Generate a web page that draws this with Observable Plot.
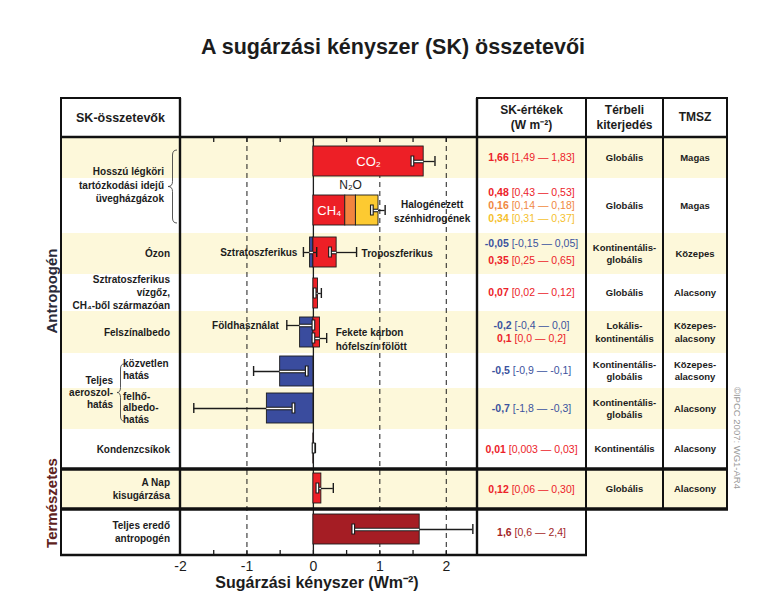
<!DOCTYPE html>
<html><head><meta charset="utf-8">
<script src="https://cdn.jsdelivr.net/npm/d3@7"></script>
<script src="https://cdn.jsdelivr.net/npm/@observablehq/plot@0.6"></script>
<style>
html,body{margin:0;padding:0;background:#fff;}
#wrap{position:relative;width:767px;height:609px;overflow:hidden;font-family:"Liberation Sans",Arial,Helvetica,sans-serif;}
#wrap svg{position:absolute;left:0;top:0;}
</style></head><body><div id="wrap"></div>
<script>
// ===================== DATA =====================
const title = "A sugárzási kényszer (SK) összetevői";
const axisTitle = "Sugárzási kényszer (Wm⁻²)";
const xTicks = [-2, -1, 0, 1, 2];
const minorTicks = [-1.5, -1, -0.5, 0, 0.5, 1, 1.5, 2];
const dashedGrid = [-1, 1, 2];
const xDomain = [-2, 2.47];

// table rows (top to bottom)
const rowLabels = ["", "", "Ózon", "Sztratoszferikus\nvízgőz,\nCH₄-ből származóan", "Felszínalbedo", "", "", "Kondenzcsíkok", "A Nap\nkisugárzása", "Teljes eredő\nantropogén"];
const spatialScale = ["Globális", "Globális", "Kontinentális-\nglobális", "Globális", "Lokális-\nkontinentális", "Kontinentális-\nglobális", "Kontinentális-\nglobális", "Kontinentális", "Globális", ""];
const confidence = ["Magas", "Magas", "Közepes", "Alacsony", "Közepes-\nalacsony", "Közepes-\nalacsony", "Alacsony", "Alacsony", "Alacsony", ""];
const groupLabelText = ["Hosszú légköri\ntartózkodási idejű\nüvegházgázok", "Teljes\naeroszol-\nhatás"];
const groupRows = [[0, 1], [5, 6]];
const subLabelText = ["közvetlen\nhatás", "felhő-\nalbedo-\nhatás"];
const subLabelRow = [5, 6];
const sideLabels = ["Antropogén", "Természetes"];
const headers = ["SK-összetevők", "SK-értékek\n(W m⁻²)", "Térbeli\nkiterjedés", "TMSZ"];
const copyright = "©IPCC 2007: WG1-AR4";

// bar segments
const barName  = ["CO₂", "CH₄", "N₂O", "Halogénezett szénhidrogének", "Sztratoszferikus ózon", "Troposzferikus ózon", "Sztratoszferikus vízgőz", "Földhasználat", "Fekete karbon hófelszín fölött", "Közvetlen aeroszolhatás", "Felhőalbedo-hatás", "Kondenzcsíkok", "A Nap kisugárzása", "Teljes eredő antropogén"];
const barRow   = [0, 1, 1, 1, 2, 2, 3, 4, 4, 5, 6, 7, 8, 9];
const barValue = [1.66, 0.48, 0.16, 0.34, -0.05, 0.35, 0.07, -0.2, 0.1, -0.5, -0.7, 0.01, 0.12, 1.6];
const barLow   = [1.49, 0.43, 0.14, 0.31, -0.15, 0.25, 0.02, -0.4, 0.0, -0.9, -1.8, 0.003, 0.06, 0.6];
const barHigh  = [1.83, 0.53, 0.18, 0.37, 0.05, 0.65, 0.12, 0.0, 0.2, -0.1, -0.3, 0.03, 0.30, 2.4];
const barKind  = ["pos", "pos", "n2o", "halo", "neg", "pos", "pos", "neg", "pos", "neg", "neg", "pos", "pos", "net"];
const valueLabel = ["1,66", "0,48", "0,16", "0,34", "-0,05", "0,35", "0,07", "-0,2", "0,1", "-0,5", "-0,7", "0,01", "0,12", "1,6"];
const rangeLabel = ["[1,49 — 1,83]", "[0,43 — 0,53]", "[0,14 — 0,18]", "[0,31 — 0,37]", "[-0,15 — 0,05]", "[0,25 — 0,65]", "[0,02 — 0,12]", "[-0,4 — 0,0]", "[0,0 — 0,2]", "[-0,9 — -0,1]", "[-1,8 — -0,3]", "[0,003 — 0,03]", "[0,06 — 0,30]", "[0,6 — 2,4]"];

// annotations on bars
const noteBar   = [0, 1, 2, 3, 4, 5, 7, 8];
const noteText  = ["CO₂", "CH₄", "N₂O", "Halogénezett\nszénhidrogének", "Sztratoszferikus", "Troposzferikus", "Földhasználat", "Fekete karbon\nhófelszín fölött"];
const notePlace = ["in", "in", "above", "errRightCenter", "errLeft", "errRight", "errLeft", "errRight"];

// ===================== STYLE / LAYOUT =====================
const kinds = ["pos", "n2o", "halo", "neg", "net"];
const barColors  = ["#ed1f26", "#f2843f", "#fdca31", "#3a4c9e", "#a51d24"];
const textColors = ["#ec2229", "#f0883f", "#f5bf2e", "#3b539e", "#a31f27"];
const ink = "#1c1c1c";
const cream = "#fdf8da";
const W = 767, H = 609;
const colX = [61, 180, 477, 586, 663, 727];
const tableTop = 98, bodyTop = 137;
const rowHeights = [41, 55, 41, 37, 42, 35, 41, 40, 40, 46];
const barOffset = [9, 17, 4, 4, 6, 3, 5, 4, 4, 5];
const barHeight = 30;
const errShift = {7: -7, 8: 6};
const noteDx = [0, 0, 0, 47, -6, 5, -8, 9];
const font = "'Liberation Sans', Arial, Helvetica, sans-serif";

const rowStart = [0];
rowHeights.forEach((h, i) => rowStart.push(rowStart[i] + h));
const bodyH = rowStart[rowStart.length - 1];
const rowMid = r => (rowStart[r] + rowStart[r + 1]) / 2;
const colorOf = k => textColors[kinds.indexOf(k)];

// ===================== DERIVED =====================
const bars = barName.map((name, i) => ({i, name, row: barRow[i], value: barValue[i], lo: barLow[i], hi: barHigh[i], kind: barKind[i]}));
const posAcc = {}, negAcc = {};
bars.forEach(b => {
  if (b.value >= 0) { const s = posAcc[b.row] || 0; b.x1 = s; b.x2 = s + b.value; posAcc[b.row] = b.x2; }
  else { const s = negAcc[b.row] || 0; b.x1 = s + b.value; b.x2 = s; negAcc[b.row] = b.x1; }
  b.y1 = rowStart[b.row] + barOffset[b.row];
  b.y2 = b.y1 + barHeight;
});
const errs = [];
d3.group(bars, b => b.row + (b.value >= 0 ? "+" : "-")).forEach(g => {
  const e = {
    lo: d3.sum(g, b => b.lo), hi: d3.sum(g, b => b.hi),
    barLo: d3.min(g, b => b.x1), barHi: d3.max(g, b => b.x2),
    y: (g[0].y1 + g[0].y2) / 2 + (g.length === 1 ? (errShift[g[0].i] || 0) : 0)
  };
  g.forEach(b => b.err = e);
  errs.push(e);
});
const eps = 1e-9;
const insideSegs = errs.map(e => ({y: e.y, a: Math.max(e.lo, e.barLo), b: Math.min(e.hi, e.barHi)})).filter(s => s.b > s.a);
const caps = errs.flatMap(e => [e.lo, e.hi].map(x => ({x, y: e.y, inside: x >= e.barLo - eps && x <= e.barHi + eps})));
const notes = noteBar.map((bi, k) => {
  const b = bars[bi], place = notePlace[k];
  let x, y, anchor = "middle";
  if (place === "in") { x = (b.x1 + b.x2) / 2; y = (b.y1 + b.y2) / 2; }
  else if (place === "above") { x = (b.x1 + b.x2) / 2; y = b.y1 - 10; }
  else if (place === "errRightCenter") { x = b.err.hi; y = b.err.y; }
  else if (place === "errRight") { x = b.err.hi; y = b.err.y; anchor = "start"; }
  else { x = b.err.lo; y = b.err.y; anchor = "end"; }
  return {x, y, text: noteText[k], anchor, place, dx: noteDx[k]};
});
const noteStyle = {
  in: {fill: "#fff", fontSize: 13},
  above: {fill: ink, fontSize: 12},
  errRightCenter: {fill: ink, fontSize: 10, fontWeight: "bold", lineHeight: 1.35},
  errRight: {fill: ink, fontSize: 10, fontWeight: "bold", lineHeight: 1.35},
  errLeft: {fill: ink, fontSize: 10, fontWeight: "bold"}
};
const noteMarks = notes.map(n => Plot.text([n], {x: "x", y: "y", text: "text", dx: n.dx, textAnchor: n.anchor, ...noteStyle[n.place]}));
const fmtTick = d => (d < 0 ? "-" : "") + Math.abs(d);

const wrap = document.getElementById("wrap");

// ===================== BACK LAYER (row shading) =====================
const back = d3.select(wrap).append("svg").attr("width", W).attr("height", H);
rowHeights.forEach((h, r) => {
  if (r % 2 === 0 && r < 9) back.append("rect").attr("x", colX[0]).attr("width", colX[5] - colX[0])
    .attr("y", bodyTop + rowStart[r]).attr("height", h).attr("fill", cream);
});

// ===================== PLOT =====================
const chart = Plot.plot({
  width: W, height: H,
  marginLeft: colX[1], marginRight: W - colX[2], marginTop: bodyTop, marginBottom: H - (bodyTop + bodyH),
  style: {background: "transparent", fontFamily: font, overflow: "visible"},
  x: {domain: xDomain, nice: false},
  y: {domain: [0, bodyH], range: [bodyTop, bodyTop + bodyH], axis: null},
  color: {domain: kinds, range: barColors},
  marks: [
    Plot.ruleX(dashedGrid, {stroke: ink, strokeWidth: 1, strokeDasharray: "5,4"}),
    Plot.ruleX([0], {stroke: ink, strokeWidth: 1.3}),
    Plot.ruleX(minorTicks, {y1: bodyH - 5, y2: bodyH, stroke: ink, strokeWidth: 1.3}),
    Plot.ruleX(minorTicks, {y1: 0, y2: 5, stroke: ink, strokeWidth: 1.3}),
    Plot.rect(bars, {x1: "x1", x2: "x2", y1: "y1", y2: "y2", fill: "kind", stroke: ink, strokeWidth: 0.9}),
    Plot.ruleY(errs, {y: "y", x1: "lo", x2: "hi", stroke: ink, strokeWidth: 1.3}),
    Plot.ruleY(insideSegs, {y: "y", x1: "a", x2: "b", stroke: ink, strokeWidth: 3.6}),
    Plot.ruleY(insideSegs, {y: "y", x1: "a", x2: "b", stroke: "#fff", strokeWidth: 1.4}),
    Plot.ruleX(caps.filter(c => !c.inside), {x: "x", y1: d => d.y - 5, y2: d => d.y + 5, stroke: ink, strokeWidth: 1.4}),
    Plot.ruleX(caps.filter(c => c.inside), {x: "x", y1: d => d.y - 5.5, y2: d => d.y + 5.5, stroke: ink, strokeWidth: 3.8}),
    Plot.ruleX(caps.filter(c => c.inside), {x: "x", y1: d => d.y - 4.5, y2: d => d.y + 4.5, stroke: "#fff", strokeWidth: 1.5}),
    ...noteMarks,
    Plot.axisX({ticks: xTicks, tickSize: 0, tickPadding: 6, fontSize: 14, tickFormat: fmtTick, label: null, fill: ink}),
    Plot.text([axisTitle], {frameAnchor: "bottom", dy: 32, dx: -12, fontSize: 16, fontWeight: "bold", fill: ink})
  ]
});
wrap.appendChild(chart);

// ===================== FRONT LAYER (table) =====================
const front = d3.select(wrap).append("svg").attr("width", W).attr("height", H)
  .style("font-family", font);
const Y = v => bodyTop + v;
const line = (x1, y1, x2, y2, w) => front.append("line").attr("x1", x1).attr("y1", y1).attr("x2", x2).attr("y2", y2)
  .attr("stroke", "#111").attr("stroke-width", w);
const yRow9 = Y(rowStart[8]), yRow10 = Y(rowStart[9]), yEnd = Y(bodyH);
// horizontal
line(colX[0] - 1, tableTop, colX[1] + 1, tableTop, 2);
line(colX[2] - 1, tableTop, colX[5] + 1, tableTop, 2);
line(colX[0] - 1, bodyTop, colX[5] + 1, bodyTop, 2.6);
line(colX[0] - 1, yRow9, colX[5] + 1, yRow9, 3.6);
line(colX[0] - 1, yRow10, colX[5] + 1, yRow10, 3.6);
line(colX[0] - 1, yEnd, colX[3] + 1, yEnd, 2.4);
// vertical
[0, 1, 2, 3].forEach(c => line(colX[c], tableTop, colX[c], yEnd, c === 1 || c === 2 ? 2.4 : 2));
[4, 5].forEach(c => line(colX[c], tableTop, colX[c], yRow10, 2));

function mtext(x, yc, text, o = {}) {
  const lines = text.split("\n");
  const fs = o.size || 10, lh = o.lh || fs * 1.3;
  const t = front.append("text").attr("x", x).attr("text-anchor", o.anchor || "middle")
    .attr("font-size", fs).attr("font-weight", o.weight || "bold").attr("fill", o.fill || ink);
  lines.forEach((l, i) => t.append("tspan").attr("x", x)
    .attr("y", yc - (lines.length - 1) * lh / 2 + i * lh + fs * 0.36).text(l));
  return t;
}

// title
mtext(393, 46, title, {size: 21.5});
// headers
mtext((colX[0] + colX[1]) / 2, 117, headers[0], {size: 12.5});
mtext((colX[2] + colX[3]) / 2, 117, headers[1], {size: 12, lh: 15});
mtext((colX[3] + colX[4]) / 2, 117, headers[2], {size: 12, lh: 15});
mtext((colX[4] + colX[5]) / 2, 117, headers[3], {size: 12});

// row labels
rowLabels.forEach((l, r) => { if (l) mtext(170, Y(rowMid(r)), l, {anchor: "end", size: 10, lh: 13}); });
// group labels with braces
function brace(x, y1, y2, w) {
  const ym = (y1 + y2) / 2, r = 5, xm = x + w / 2;
  front.append("path").attr("fill", "none").attr("stroke", "#444").attr("stroke-width", 0.9)
    .attr("d", `M${x + w},${y1} Q${xm},${y1} ${xm},${y1 + r} L${xm},${ym - r} Q${xm},${ym} ${x},${ym} Q${xm},${ym} ${xm},${ym + r} L${xm},${y2 - r} Q${xm},${y2} ${x + w},${y2}`);
}
mtext(164, Y((rowStart[groupRows[0][0]] + rowStart[groupRows[0][1] + 1]) / 2), groupLabelText[0], {anchor: "end", size: 10, lh: 13.5});
brace(168, 150, 223, 9);
mtext(113, Y((rowStart[groupRows[1][0]] + rowStart[groupRows[1][1] + 1]) / 2) + 1, groupLabelText[1], {anchor: "end", size: 10, lh: 12});
brace(117, 364, 421, 7);
subLabelText.forEach((s, k) => mtext(123, Y(rowMid(subLabelRow[k])) - 1, s, {anchor: "start", size: 10, lh: 11.5}));

// side labels
front.append("text").attr("transform", `translate(57,${Y(rowStart[8] / 2) - 12}) rotate(-90)`).attr("text-anchor", "middle")
  .attr("font-size", 15).attr("font-weight", "bold").attr("fill", "#2a2a38").text(sideLabels[0]);
front.append("text").attr("transform", `translate(57,${Y(rowStart[8]) + 34}) rotate(-90)`).attr("text-anchor", "middle")
  .attr("font-size", 15).attr("font-weight", "bold").attr("fill", "#5e2220").text(sideLabels[1]);

// value column
const skX = (colX[2] + colX[3]) / 2;
d3.range(rowHeights.length).forEach(r => {
  const items = bars.filter(b => b.row === r);
  const lh = r === 2 ? 17 : 13;
  const yc = Y(rowMid(r)) - (r === 2 ? 2 : 0);
  items.forEach((b, k) => {
    const y = yc - (items.length - 1) * lh / 2 + k * lh + 10.5 * 0.36;
    const t = front.append("text").attr("x", skX).attr("y", y).attr("text-anchor", "middle")
      .attr("font-size", 10.5).attr("fill", colorOf(b.kind));
    t.append("tspan").attr("font-weight", "bold").text(valueLabel[b.i] + " ");
    t.append("tspan").text(rangeLabel[b.i]);
  });
  if (spatialScale[r]) mtext((colX[3] + colX[4]) / 2, Y(rowMid(r)), spatialScale[r], {size: 9.5, lh: 12.5});
  if (confidence[r]) mtext((colX[4] + colX[5]) / 2, Y(rowMid(r)), confidence[r], {size: 9.5, lh: 12.5});
});

// copyright
front.append("text").attr("transform", "translate(734,438) rotate(90)").attr("text-anchor", "middle")
  .attr("font-size", 9.5).attr("fill", "#9a9a9a").text(copyright);
</script></body></html>
